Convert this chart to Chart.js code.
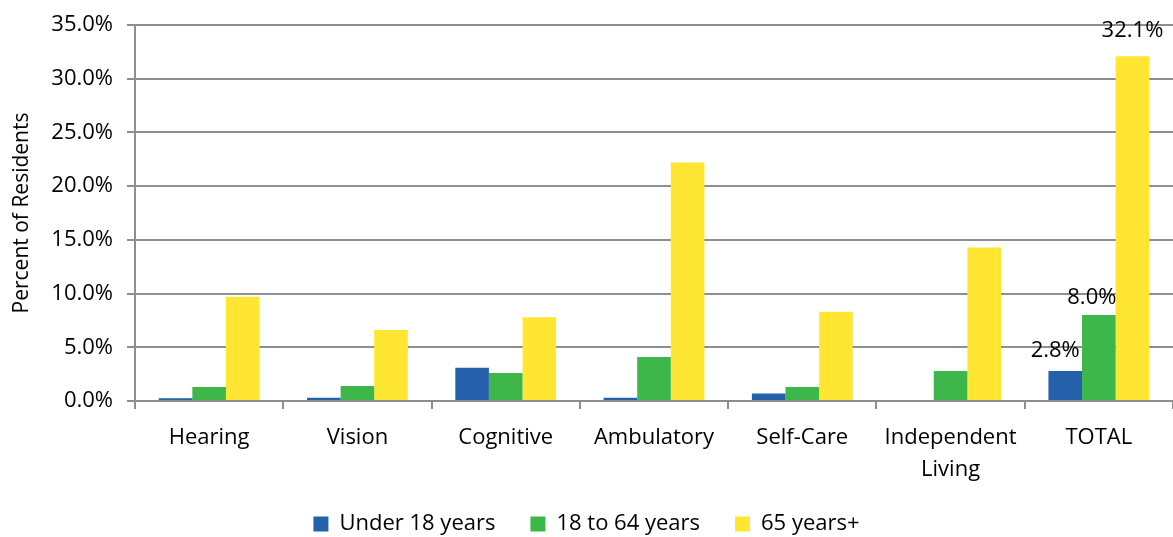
<!DOCTYPE html>
<html>
<head>
<meta charset="utf-8">
<script src="https://cdn.jsdelivr.net/npm/chart.js@4/dist/chart.umd.min.js"></script>
<style>
html,body{margin:0;padding:0;background:#fff;}
#wrap{width:1173px;height:537px;position:relative;}
</style>
</head>
<body>
<div id="wrap"><canvas id="c" width="1173" height="537"></canvas></div>
<script>
const categories = ['Hearing', 'Vision', 'Cognitive', 'Ambulatory', 'Self-Care', ['Independent', 'Living'], 'TOTAL'];
const under18 = [0.25, 0.3, 3.1, 0.3, 0.7, 0, 2.8];
const age18to64 = [1.3, 1.4, 2.6, 4.1, 1.3, 2.8, 8.0];
const age65plus = [9.7, 6.6, 7.8, 22.2, 8.3, 14.3, 32.1];
const seriesNames = ['Under 18 years', '18 to 64 years', '65 years+'];
const yTicks = [0, 5, 10, 15, 20, 25, 30, 35];
const labeledIndex = 6;

const FONT = "'Open Sans', 'Noto Sans', sans-serif";
const GRID = '#8e8e8e';

const totalLabels = {
  id: 'totalLabels',
  afterDatasetsDraw(chart) {
    const ctx = chart.ctx;
    const nudge = [[-10, 20], [-7, 17], [0, 25]];
    ctx.save();
    ctx.font = "22px " + FONT;
    ctx.fillStyle = '#000';
    ctx.textAlign = 'center';
    ctx.textBaseline = 'middle';
    chart.data.datasets.forEach((ds, i) => {
      const el = chart.getDatasetMeta(i).data[labeledIndex];
      const v = ds.data[labeledIndex];
      ctx.fillText(v.toFixed(1) + '%', el.x + nudge[i][0], el.y - nudge[i][1]);
    });
    ctx.restore();
  }
};

new Chart(document.getElementById('c'), {
  type: 'bar',
  data: {
    labels: categories,
    datasets: [
      { label: seriesNames[0], data: under18, backgroundColor: '#2461AA' },
      { label: seriesNames[1], data: age18to64, backgroundColor: '#3DB64A' },
      { label: seriesNames[2], data: age65plus, backgroundColor: '#FFE633' }
    ]
  },
  options: {
    responsive: false,
    animation: false,
    devicePixelRatio: 1,
    layout: { padding: { top: 20, right: 0, left: 0, bottom: -8 } },
    datasets: { bar: { categoryPercentage: 0.68, barPercentage: 1.0 } },
    plugins: {
      legend: {
        position: 'bottom',
        labels: {
          font: { family: FONT, size: 22 },
          color: '#000',
          boxWidth: 15,
          boxHeight: 15,
          padding: 35
        }
      },
      tooltip: { enabled: false }
    },
    scales: {
      x: {
        grid: { offset: true, drawOnChartArea: false, color: GRID, lineWidth: 2, tickLength: 8 },
        border: { color: GRID, width: 2 },
        ticks: { font: { family: FONT, size: 22, lineHeight: 1.45 }, color: '#000', padding: 13, maxRotation: 0, autoSkip: false },
        afterFit(s) { s.height = 77; },
        afterUpdate(s) { s._computeLabelArea = () => undefined; }
      },
      y: {
        min: 0, max: 35,
        afterBuildTicks(s) { s.ticks = yTicks.map(v => ({ value: v })); },
        grid: { color: GRID, lineWidth: 2, tickLength: 8 },
        border: { color: GRID, width: 2 },
        ticks: {
          font: { family: FONT, size: 22, lineHeight: 1 }, color: '#000', padding: 14,
          callback: v => Number(v).toFixed(1) + '%'
        },
        title: {
          display: true, text: 'Percent of Residents',
          font: { family: FONT, size: 21 }, color: '#000',
          padding: { top: 9, bottom: 0 }
        },
        afterFit(s) { s.width = 135; }
      }
    }
  },
  plugins: [totalLabels]
});
</script>
</body>
</html>
